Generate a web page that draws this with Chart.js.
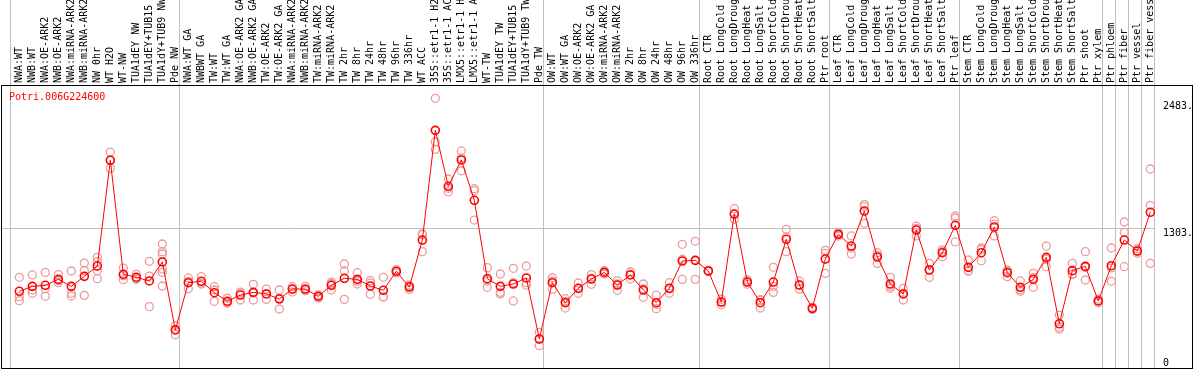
<!DOCTYPE html>
<html>
<head>
<meta charset="utf-8">
<script src="https://cdn.jsdelivr.net/npm/chart.js@4.4.0/dist/chart.umd.min.js"></script>
<style>
  html, body { margin: 0; padding: 0; background: #fff; }
</style>
</head>
<body>
<canvas id="exprChart" width="1194" height="370"></canvas>
<script>
const geneName = 'Potri.006G224600';

const samples = [
  'NWA:WT', 'NWB:WT', 'NWA:OE-ARK2', 'NWB:OE-ARK2', 'NWA:miRNA-ARK2', 'NWB:miRNA-ARK2',
  'NW 0hr', 'WT H2O', 'WT-NW', 'TUA1dEY NW', 'TUA1dEY+TUB15 NW', 'TUA1dY+TUB9 NW', 'Pde NW',
  'NWA:WT GA', 'NWBWT GA', 'TW:WT', 'TW:WT GA', 'NWA:OE-ARK2 GA', 'NWB:OE-ARK2 GA',
  'TW:OE-ARK2', 'TW:OE-ARK2 GA', 'NWA:miRNA-ARK2 GA', 'NWB:miRNA-ARK2 GA', 'TW:miRNA-ARK2',
  'TW:miRNA-ARK2', 'TW 2hr', 'TW 8hr', 'TW 24hr', 'TW 48hr', 'TW 96hr', 'TW 336hr', 'WT ACC',
  '35S::etr1-1 H2O', '35S::etr1-1 ACC', 'LMX5::etr1-1 H2O', 'LMX5::etr1-1 ACC', 'WT-TW',
  'TUA1dEY TW', 'TUA1dEY+TUB15 TW', 'TUA1dY+TUB9 TW', 'Pde TW',
  'OW:WT', 'OW:WT GA', 'OW:OE-ARK2', 'OW:OE-ARK2 GA', 'OW:miRNA-ARK2', 'OW:miRNA-ARK2',
  'OW 2hr', 'OW 8hr', 'OW 24hr', 'OW 48hr', 'OW 96hr', 'OW 336hr',
  'Root CTR', 'Root LongCold', 'Root LongDrought', 'Root LongHeat', 'Root LongSalt',
  'Root ShortCold', 'Root ShortDrought', 'Root ShortHeat', 'Root ShortSalt', 'Ptr root',
  'Leaf CTR', 'Leaf LongCold', 'Leaf LongDrought', 'Leaf LongHeat', 'Leaf LongSalt',
  'Leaf ShortCold', 'Leaf ShortDrought', 'Leaf ShortHeat', 'Leaf ShortSalt', 'Ptr leaf',
  'Stem CTR', 'Stem LongCold', 'Stem LongDrought', 'Stem LongHeat', 'Stem LongSalt',
  'Stem ShortCold', 'Stem ShortDrought', 'Stem ShortHeat', 'Stem ShortSalt', 'Ptr shoot',
  'Ptr xylem', 'Ptr phloem', 'Ptr fiber', 'Ptr vessel', 'Ptr fiber vessel'
];

// number of samples in each experiment block (separated by grey lines)
const groupSizes = [13, 28, 12, 10, 10, 11, 1, 1, 1, 1];

const meanValues = [
  714, 760, 770, 825, 760, 853, 949, 1933, 872, 844, 810, 987, 354,
  794, 807, 701, 621, 679, 704, 689, 642, 735, 735, 667, 770, 835, 825, 763, 723, 900, 754,
  1191, 2212, 1691, 1936, 1561, 831, 760, 782, 838, 270,
  794, 608, 742, 828, 890, 772, 866, 726, 608, 742, 996, 1002,
  903, 614, 1433, 800, 608, 800, 1198, 772, 555, 1014,
  1244, 1135, 1461, 1033, 782, 689, 1284, 912, 1073, 1328,
  937, 1073, 1312, 887, 751, 825, 1030, 412, 906, 946, 624,
  952, 1191, 1089, 1449
];

const replicateValues = [
  [844, 664, 627], [866, 726, 695], [890, 738, 667], [869, 812, 794], [903, 695, 670],
  [977, 906, 676], [1030, 990, 906, 831], [2010, 1933, 1858], [930, 860, 822], [872, 835, 826],
  [993, 856, 571], [1154, 1083, 1061, 921, 890, 763], [395, 360, 310],
  [838, 805, 738], [851, 790, 782], [757, 726, 621], [649, 612, 602], [707, 697, 633],
  [779, 700, 633], [735, 693, 639], [726, 651, 549], [757, 735, 707], [760, 725, 720],
  [680, 667, 650], [800, 784, 726], [968, 903, 639], [887, 806, 782], [813, 790, 686],
  [844, 664, 661], [915, 900, 885], [770, 760, 732], [1241, 1249, 1083], [2510, 2106, 2035],
  [1759, 1673, 1641], [2020, 1955, 1836], [1669, 1650, 1377], [934, 810, 751], [875, 704, 689],
  [928, 794, 624], [949, 794, 771], [332, 270, 208],
  [840, 810, 732], [645, 620, 558], [791, 740, 695], [869, 836, 779], [905, 890, 875],
  [810, 783, 723], [896, 873, 828], [782, 738, 658], [679, 592, 552], [794, 737, 695],
  [1151, 1012, 825], [1179, 1002, 825],
  [910, 900, 899], [640, 614, 589], [1483, 1433, 1384], [820, 800, 780], [636, 630, 558],
  [937, 760, 704], [1291, 1220, 1083], [810, 775, 732], [565, 555, 545], [1095, 1066, 881],
  [1260, 1244, 1228], [1229, 1115, 1061], [1523, 1505, 1347], [1073, 1050, 974], [844, 760, 742],
  [742, 692, 633], [1300, 1320, 1229], [974, 918, 844], [1100, 1083, 1036], [1415, 1396, 1173],
  [1005, 906, 900], [1117, 1103, 999], [1371, 1336, 1229], [910, 900, 850], [810, 729, 714],
  [881, 843, 751], [1135, 1012, 943], [493, 380, 363], [974, 875, 869], [1083, 936, 819],
  [640, 624, 608],
  [1117, 932, 807], [1359, 1263, 943], [1110, 1089, 1068], [1852, 1514, 974]
];

const yTickValues = [0, 1303, 2483];
const yMax = 2634;

// x range in sample units, sample i sits at i
const xMin = -1.41;
const xMax = 87.36;
const boundaryShift = -0.715;

let boundaries = [boundaryShift];
let acc = 0;
groupSizes.forEach(n => { acc += n; boundaries.push(acc + boundaryShift); });

const monoFont = { family: "'DejaVu Sans Mono', monospace", size: 10 };

const meanPoints = meanValues.map((v, i) => ({ x: i, y: v }));
let repPoints = [];
replicateValues.forEach((reps, i) => {
  reps.forEach(v => repPoints.push({ x: i, y: v }));
});

// black frame + gene name
const framePlugin = {
  id: 'frame',
  afterDraw(chart) {
    const ctx = chart.ctx;
    const area = chart.chartArea;
    const right = chart.scales.y.right - 0.5;
    ctx.save();
    ctx.strokeStyle = '#000';
    ctx.lineWidth = 1;
    ctx.strokeRect(area.left + 0.5, area.top + 0.5, right - area.left - 0.5, area.bottom - area.top);
    ctx.fillStyle = '#ff0000';
    ctx.font = "10px 'DejaVu Sans Mono', monospace";
    ctx.textBaseline = 'middle';
    ctx.fillText(geneName, area.left + 8, area.top + 12);
    ctx.restore();
  }
};

let exprCtx = document.getElementById('exprChart').getContext('2d');
let exprChart = new Chart(exprCtx, {
  type: 'line',
  data: {
    datasets: [
      {
        label: 'mean',
        data: meanPoints,
        borderColor: '#ff0000',
        borderWidth: 1,
        pointRadius: 4,
        pointBorderWidth: 1.6,
        pointBorderColor: '#ff0000',
        pointBackgroundColor: 'rgba(0,0,0,0)',
        tension: 0
      },
      {
        label: 'replicates',
        data: repPoints,
        showLine: false,
        pointRadius: 4,
        pointBorderWidth: 1.3,
        pointBorderColor: '#ee9a9a',
        pointBackgroundColor: 'rgba(0,0,0,0)'
      }
    ]
  },
  options: {
    responsive: false,
    animation: false,
    layout: { autoPadding: false, padding: { left: 1, right: 1, top: 0, bottom: 2 } },
    plugins: { legend: { display: false }, tooltip: { enabled: false } },
    scales: {
      x: {
        type: 'linear',
        position: 'top',
        weight: 0,
        min: xMin,
        max: xMax,
        afterBuildTicks: s => { s.ticks = boundaries.map(v => ({ value: v })); },
        afterFit: s => { s.height = 0; s.paddingLeft = 0; s.paddingRight = 0; },
        ticks: { display: false },
        grid: { color: '#c0c0c0', lineWidth: 1, drawTicks: true, tickLength: 85 },
        border: { display: false }
      },
      xLabels: {
        type: 'linear',
        position: 'top',
        weight: 1,
        min: xMin,
        max: xMax,
        afterBuildTicks: s => { s.ticks = samples.map((_, i) => ({ value: i })); },
        afterFit: s => { s.height = 85; s.paddingLeft = 0; s.paddingRight = 0; },
        ticks: {
          autoSkip: false,
          minRotation: 90,
          maxRotation: 90,
          padding: 2,
          labelOffset: 12,
          color: '#000',
          font: monoFont,
          callback: v => samples[v]
        },
        grid: { display: false, drawTicks: false },
        border: { display: false }
      },
      y: {
        position: 'right',
        min: 0,
        max: yMax,
        afterBuildTicks: s => { s.ticks = yTickValues.map(v => ({ value: v })); },
        afterFit: s => { s.width = 38; s.paddingTop = 0; s.paddingBottom = 0; },
        ticks: {
          padding: 8,
          color: '#000',
          font: { family: "'DejaVu Sans Mono', monospace", size: 10, lineHeight: 1 },
          // keep the end labels inside the frame
          callback: v => v === 0 ? ['0', ''] : ['', v + '.']
        },
        grid: {
          color: c => c.tick && c.tick.value === 1303 ? '#c0c0c0' : 'rgba(0,0,0,0)',
          drawTicks: false
        },
        border: { display: false }
      }
    }
  },
  plugins: [framePlugin]
});
</script>
</body>
</html>
